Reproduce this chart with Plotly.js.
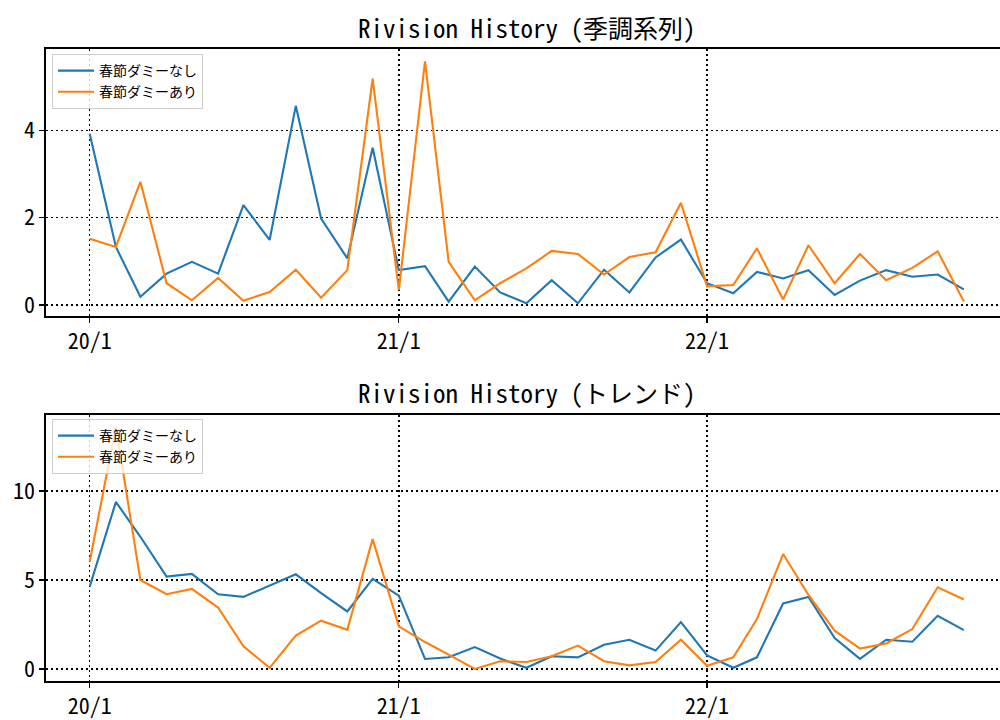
<!DOCTYPE html>
<html>
<head>
<meta charset="utf-8">
<script src="https://cdn.plot.ly/plotly-3.0.1.min.js"></script>
<style>html,body{margin:0;padding:0;background:#fff;}#chart{width:1000px;height:720px;}</style>
</head>
<body>
<div id="chart"></div>
<script>
// Monthly dates 2020-01 .. 2022-11
const months = [
 "2020-01-01","2020-02-01","2020-03-01","2020-04-01","2020-05-01","2020-06-01",
 "2020-07-01","2020-08-01","2020-09-01","2020-10-01","2020-11-01","2020-12-01",
 "2021-01-01","2021-02-01","2021-03-01","2021-04-01","2021-05-01","2021-06-01",
 "2021-07-01","2021-08-01","2021-09-01","2021-10-01","2021-11-01","2021-12-01",
 "2022-01-01","2022-02-01","2022-03-01","2022-04-01","2022-05-01","2022-06-01",
 "2022-07-01","2022-08-01","2022-09-01","2022-10-01","2022-11-01"
];
const seriesNames = ["春節ダミーなし", "春節ダミーあり"];
const titles = ["Rivision History (季調系列)", "Rivision History (トレンド)"];

// 季調系列 (seasonally adjusted)
const saNoDummy = [3.92,1.33,0.19,0.72,0.99,0.72,2.29,1.49,4.56,1.98,1.07,3.60,
 0.80,0.89,0.08,0.88,0.29,0.04,0.57,0.04,0.81,0.29,1.09,1.50,
 0.50,0.27,0.76,0.61,0.80,0.23,0.56,0.80,0.65,0.70,0.36];
const saDummy = [1.52,1.33,2.82,0.50,0.11,0.62,0.10,0.30,0.81,0.17,0.80,5.18,
 0.34,5.58,0.99,0.11,0.50,0.84,1.24,1.17,0.70,1.10,1.21,2.34,
 0.43,0.46,1.30,0.13,1.37,0.50,1.17,0.57,0.85,1.23,0.08];

// トレンド (trend)
const trNoDummy = [4.63,9.39,7.43,5.19,5.34,4.20,4.05,4.67,5.32,4.26,3.23,5.06,
 4.12,0.56,0.65,1.23,0.58,0.06,0.71,0.65,1.36,1.64,1.03,2.63,
 0.76,0.06,0.65,3.68,4.05,1.74,0.56,1.64,1.53,2.99,2.18];
const trDummy = [6.03,13.62,5.00,4.20,4.50,3.45,1.27,0.06,1.87,2.71,2.20,7.30,
 2.39,1.51,0.80,0.00,0.43,0.39,0.71,1.31,0.43,0.20,0.39,1.64,
 0.18,0.65,2.80,6.46,4.16,2.15,1.14,1.43,2.24,4.59,3.90];

const xTickVals = ["2020-01-01","2021-01-01","2022-01-01"];
const xTickText = ["20/1","21/1","22/1"];
const yTicksTop = [0,2,4];
const yTicksBottom = [0,5,10];

const colors = ["#1f77b4", "#ff7f0e"];
const FONT = "'Noto Sans Mono CJK JP','DejaVu Sans Mono','Noto Sans CJK JP',monospace";

const traces = [
  {x: months, y: saNoDummy, name: seriesNames[0], xaxis:"x", yaxis:"y", legend:"legend"},
  {x: months, y: saDummy, name: seriesNames[1], xaxis:"x", yaxis:"y", legend:"legend"},
  {x: months, y: trNoDummy, name: seriesNames[0], xaxis:"x2", yaxis:"y2", legend:"legend2"},
  {x: months, y: trDummy, name: seriesNames[1], xaxis:"x2", yaxis:"y2", legend:"legend2"}
].map((t,i)=>Object.assign(t,{type:"scatter",mode:"lines",line:{color:colors[i%2],width:2.1}}));

const GRIDDASH = "2px,3px";
function xAxis(anchor){
  return {
    type:"date", domain:[0.046,1.0], anchor:anchor,
    range:["2019-11-10 06:00","2022-12-13 19:00"],
    tickvals:xTickVals, ticktext:xTickText,
    ticks:"outside", ticklen:5, tickwidth:1.3, tickcolor:"#000",
    showgrid:true, gridcolor:"#000", griddash:GRIDDASH, gridwidth:1.4,
    showline:true, linecolor:"#000", linewidth:1.6, mirror:true,
    zeroline:false, tickfont:{family:FONT,size:22,color:"#000"}
  };
}
function yAxis(domain, range, tickvals, anchor){
  return {
    domain:domain, range:range, anchor:anchor, tickvals:tickvals,
    ticks:"outside", ticklen:5, tickwidth:1.3, tickcolor:"#000",
    showgrid:true, gridcolor:"#000", griddash:GRIDDASH, gridwidth:1.4,
    showline:true, linecolor:"#000", linewidth:1.6, mirror:false,
    zeroline:false, tickfont:{family:FONT,size:22,color:"#000"}
  };
}
const legendBase = {
  xref:"paper", yref:"paper", x:0.052, xanchor:"left", yanchor:"top",
  bgcolor:"rgba(255,255,255,0.8)", bordercolor:"#cccccc", borderwidth:1,
  font:{family:"'Noto Sans CJK JP',sans-serif",size:14,color:"#000"},
  tracegroupgap:0, itemwidth:36
};

const layout = {
  width:1000, height:720,
  margin:{l:0,r:0,t:0,b:0},
  paper_bgcolor:"#fff", plot_bgcolor:"#fff",
  showlegend:true,
  xaxis: xAxis("y"),
  yaxis: yAxis([0.5611,0.9319],[-0.25,5.86],yTicksTop,"x"),
  xaxis2: xAxis("y2"),
  yaxis2: yAxis([0.0542,0.4236],[-0.68,14.28],yTicksBottom,"x2"),
  legend: Object.assign({}, legendBase, {y:1-54/720}),
  legend2: Object.assign({}, legendBase, {y:1-419/720}),
  annotations:[
    {text:titles[0], xref:"paper", yref:"paper", x:0.527, y:1-27/720, xanchor:"center", yanchor:"middle",
     showarrow:false, font:{family:FONT,size:25,color:"#000"}},
    {text:titles[1], xref:"paper", yref:"paper", x:0.527, y:1-392/720, xanchor:"center", yanchor:"middle",
     showarrow:false, font:{family:FONT,size:25,color:"#000"}}
  ]
};

Plotly.newPlot("chart", traces, layout, {displayModeBar:false, staticPlot:true});
</script>
</body>
</html>
